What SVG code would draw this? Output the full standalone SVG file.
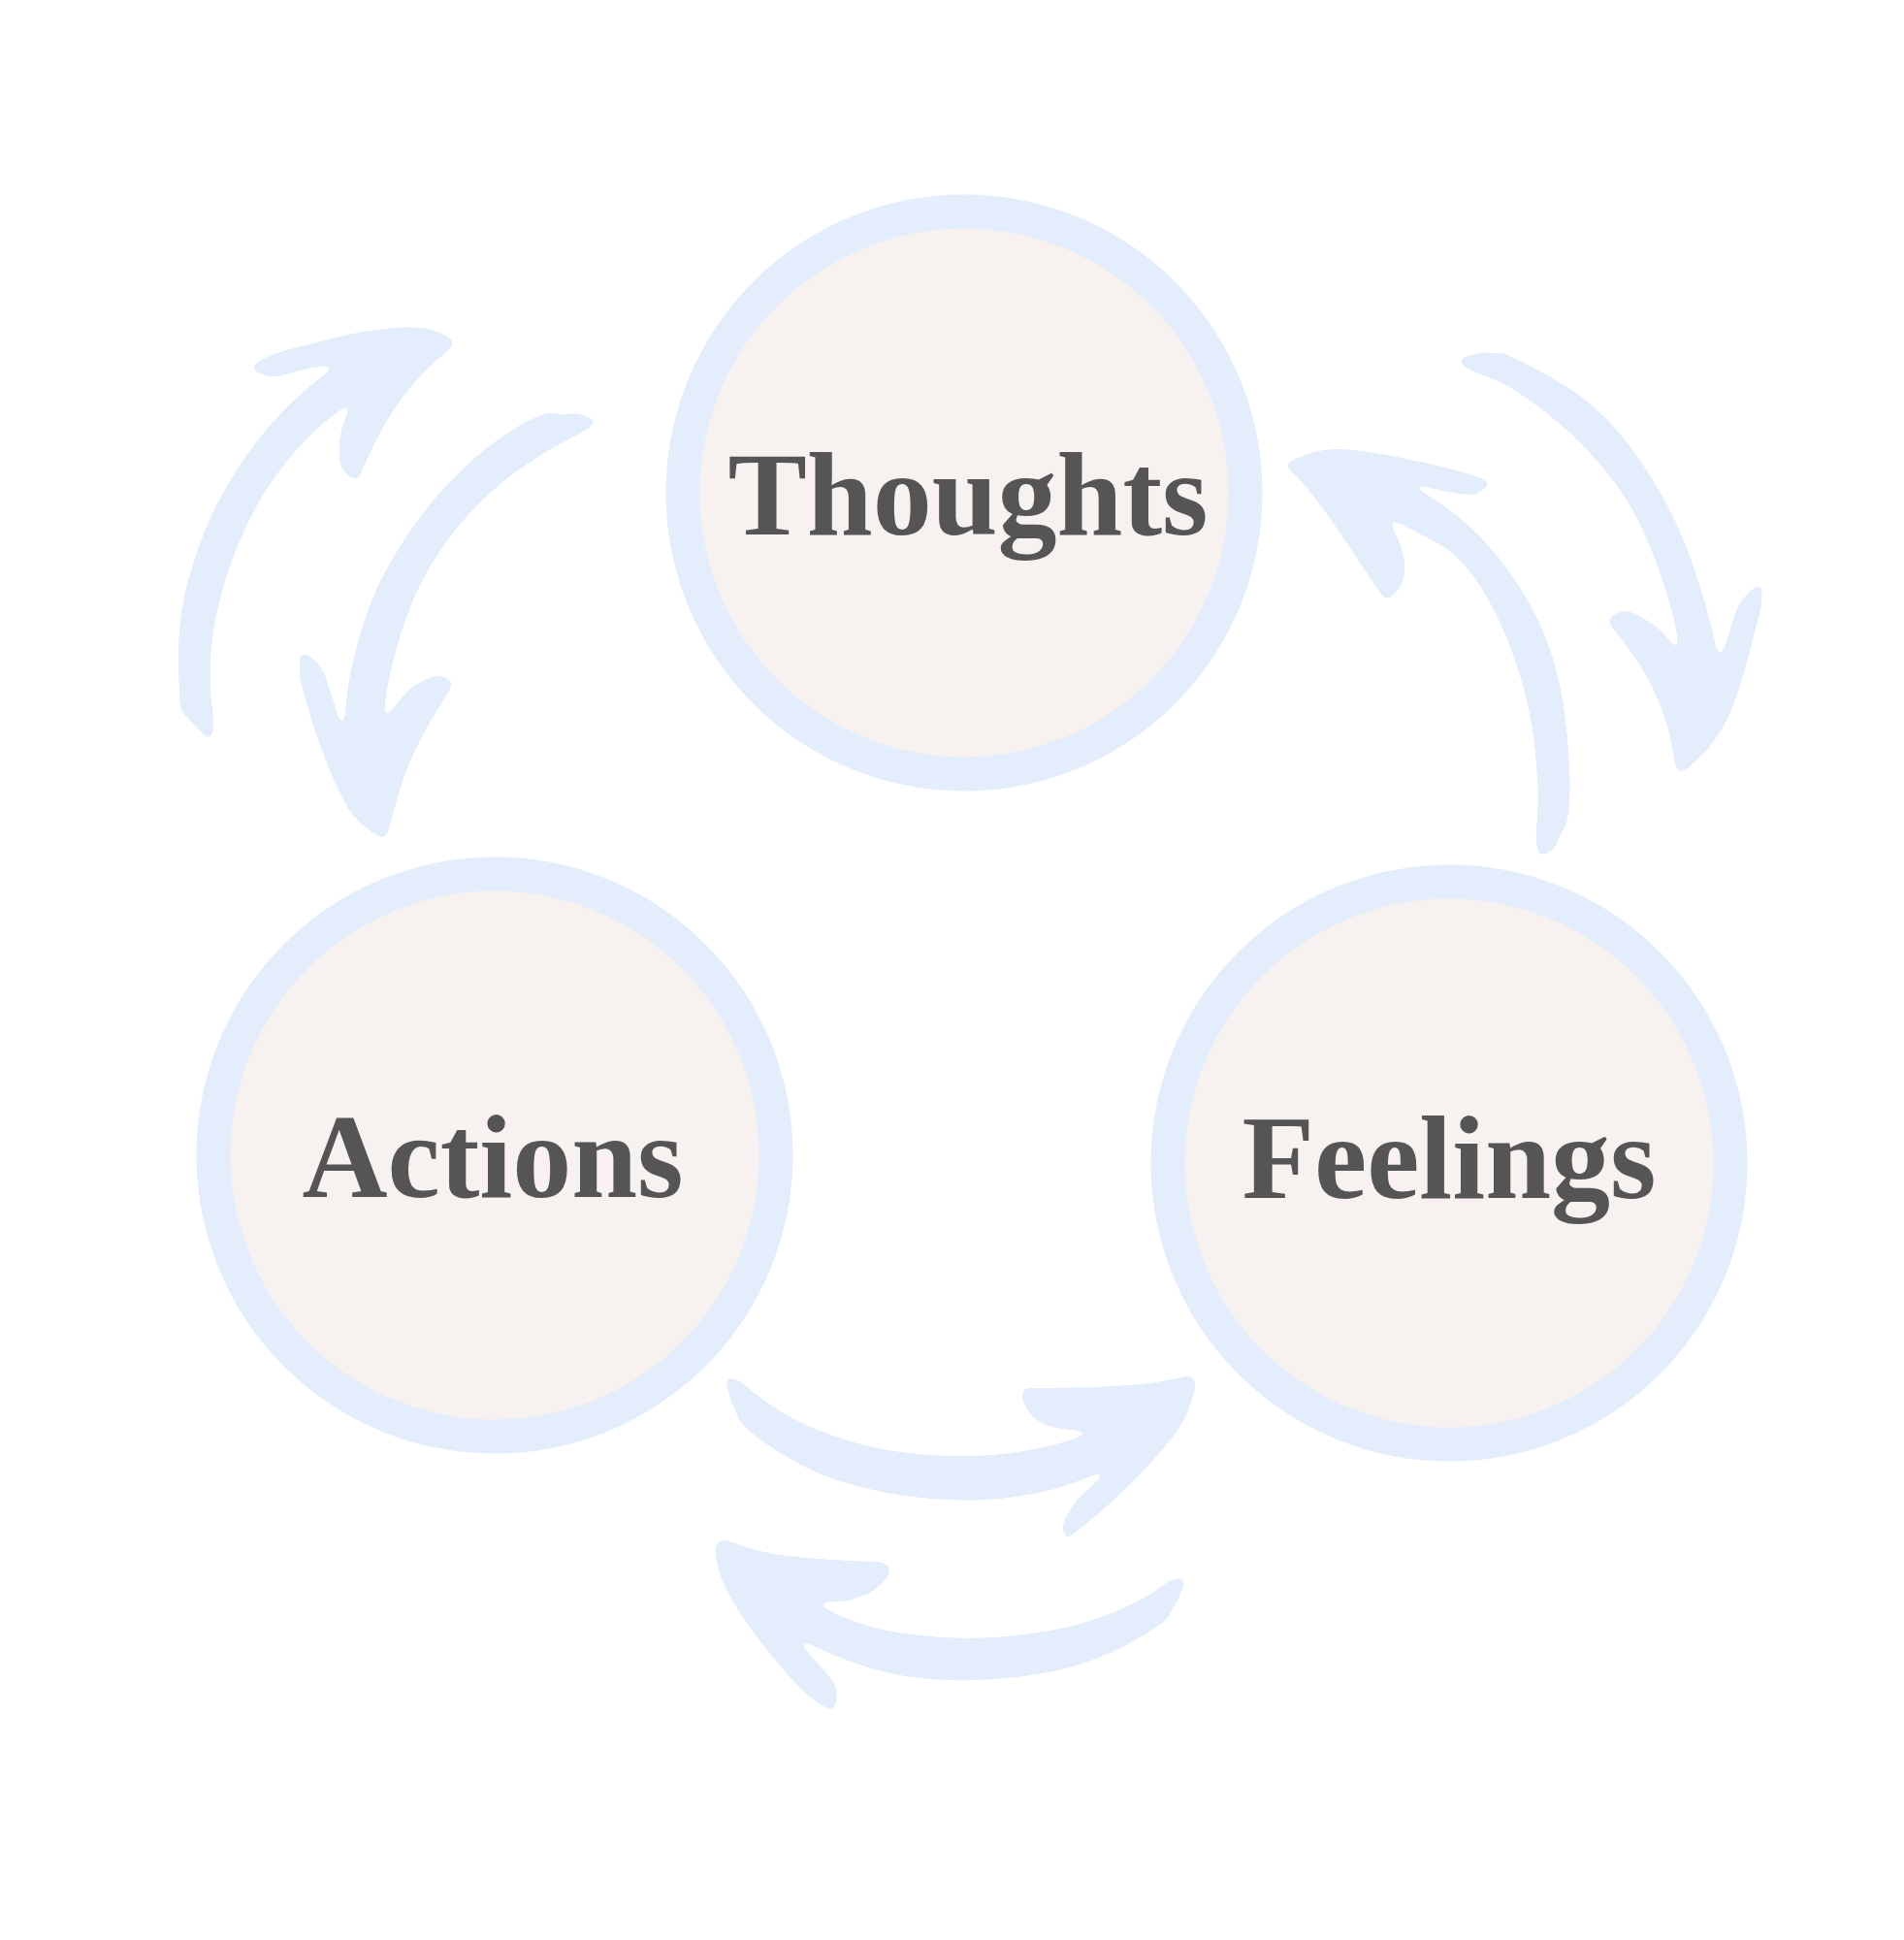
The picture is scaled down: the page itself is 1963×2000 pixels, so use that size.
<svg xmlns="http://www.w3.org/2000/svg" width="1963" height="2000" viewBox="0 0 1963 2000">
<style>
.ring{fill:#f7f2f0;stroke:#e3edfb;stroke-width:35}
.lbl{font-family:"Liberation Serif","Times New Roman",serif;font-weight:bold;font-size:122px;fill:#555555;text-anchor:middle}
.arr{fill:#e3edfb;stroke:#e3edfb;stroke-width:2;stroke-linejoin:round}
</style>
<defs>
<filter id="smooth" filterUnits="userSpaceOnUse" x="0" y="0" width="1963" height="2000" color-interpolation-filters="sRGB">
<feGaussianBlur in="SourceGraphic" stdDeviation="4" result="b"/>
<feColorMatrix in="b" type="matrix" values="0 0 0 0 0.890 0 0 0 0 0.929 0 0 0 0 0.984 0 0 0 24 -11"/>
</filter>
</defs>
<rect width="1963" height="2000" fill="#ffffff"/>
<g id="connectors" filter="url(#smooth)">
<path class="arr" transform="translate(170,0) scale(0.93333,1) translate(-170,0)" d="M220,763 L188,731 L186.5,695 Q185,659 190,629 Q195,599 209.5,561.5 Q224,524 247,490 Q270,456 295,431 Q320,406 342.5,390.5 L365,375 L349.5,376 Q334,377 320,380.5 Q306,384 297,386.5 Q288,389 276,384 L265,379 L276.5,372.5 Q288,366 309.5,361 Q331,356 357.5,349.5 Q384,343 414.5,340 Q445,337 459.5,340 Q474,343 482,348.5 L490,354 L473,367.5 Q456,381 441.5,397 Q427,413 414.5,432.5 Q402,452 392,473.5 L382,495 L375,490.5 Q368,486 365.5,480 Q363,474 364,457.5 Q365,441 373.5,425 L382,409 L365.5,420 Q349,431 334.5,443.5 Q320,456 298.5,481 Q277,506 259,541.5 Q241,577 230.5,614.5 Q220,652 219,682.5 Q218,713 221,729 Q224,745 222,754 Z"/>
<path class="arr" transform="translate(170,0) scale(0.93333,1) translate(-170,0)" d="M647,434 L624,427 L609,429 L595,426 L579,432 Q563,438 536,456 Q509,474 482.5,500.5 Q456,527 429,566.5 Q402,606 388,650.5 Q374,695 371.5,724.5 L369,754 L363,749 L357.5,731 Q352,713 346.5,698.5 Q341,684 330.5,678 L320,672 L320,699 L329,729 Q338,759 354,795 Q370,831 380.5,841.5 Q391,852 402,858.5 L413,865 L416.5,853 Q420,841 427,818 Q434,795 445,773.5 Q456,752 472,728 L488,704 L474,697 L463,700 L452,704.5 Q441,709 425,729 L409,749 L412,724 Q415,699 428,657.5 Q441,616 462.5,582.5 Q484,549 511,523 Q538,497 568.5,478 Q599,459 615,452 Q631,445 639,439.5 Z"/>
<path class="arr" transform="translate(1300,0) scale(0.96419,1) translate(-1300,0)" d="M1326,479 L1348.5,470 Q1371,461 1407,466 Q1443,471 1478.5,479 Q1514,487 1530,492.5 L1546,498 L1529,509 L1514.5,508 Q1500,507 1485.5,502.5 Q1471,498 1458.5,496.5 L1446,495 L1471,508 Q1496,521 1523,544.5 Q1550,568 1573,602 Q1596,636 1608.5,671.5 Q1621,707 1625.5,751.5 Q1630,796 1629,821 Q1628,846 1624,851.5 Q1620,857 1617,866 Q1614,875 1606,878.5 L1598,882 L1595,864 L1597,839 Q1599,814 1594,769.5 Q1589,725 1573,680.5 Q1557,636 1535.5,603.5 Q1514,571 1489,558.5 Q1464,546 1448,538 L1432,530 L1441,547 Q1450,564 1452,576.5 Q1454,589 1451,598 Q1448,607 1441,612.5 L1434,618 L1426,607 Q1418,596 1400,569.5 Q1382,543 1364,519.5 Q1346,496 1336,487.5 Z"/>
<path class="arr" transform="translate(1300,0) scale(0.96419,1) translate(-1300,0)" d="M1511,371 L1539,364 L1550,366 L1557,364 L1580.5,375 Q1604,386 1627,400 Q1650,414 1671.5,435.5 Q1693,457 1719.5,498 Q1746,539 1762.5,587.5 Q1779,636 1784,661 L1789,686 L1794.5,673.5 Q1800,661 1805.5,641 Q1811,621 1823,611 L1835,601 L1834,625 L1820.5,675 Q1807,725 1794.5,746.5 Q1782,768 1766,782 L1750,796 L1745,793 L1740.5,768 Q1736,743 1723.5,716 Q1711,689 1691,664 L1671,639 L1688,630 L1698,633 L1713.5,641.5 Q1729,650 1739.5,666 L1750,682 L1747.5,662.5 Q1745,643 1735,611 Q1725,579 1709,545 Q1693,511 1666,480.5 Q1639,450 1609,427 Q1579,404 1562.5,396 Q1546,388 1533.5,384 Q1521,380 1516,375.5 Z"/>
<path class="arr" d="M748,1420 L763,1425 L771.5,1432.5 Q780,1440 800,1453.5 Q820,1467 853.5,1479.5 Q887,1492 920,1497 Q953,1502 986.5,1502.5 Q1020,1503 1053.5,1497.5 Q1087,1492 1108.5,1484.5 L1130,1477 L1127,1474 L1107,1473 Q1087,1472 1075,1466 Q1063,1460 1061.5,1455 Q1060,1450 1057.5,1448.5 Q1055,1447 1055,1439.5 L1055,1432 L1087.5,1432 Q1120,1432 1153.5,1430 Q1187,1428 1207.5,1423.5 L1228,1419 L1232,1427 L1227,1445 Q1222,1463 1207.5,1481.5 Q1193,1500 1170,1523.5 Q1147,1547 1122.5,1567 L1098,1587 L1097,1570 L1103.5,1558.5 Q1110,1547 1118.5,1540 Q1127,1533 1139.5,1520.5 L1152,1508 L1127.5,1519 Q1103,1530 1078,1536 Q1053,1542 1023,1544.5 Q993,1547 956.5,1543.5 Q920,1540 886.5,1531.5 Q853,1523 828,1510 Q803,1497 783,1482 Q763,1467 761.5,1460 Q760,1453 756,1447.5 Z"/>
<path class="arr" d="M1222,1627 L1207,1630 L1197,1637.5 Q1187,1645 1165,1656 Q1143,1667 1115,1675 Q1087,1683 1045,1687.5 Q1003,1692 961.5,1688.5 Q920,1685 895,1677.5 Q870,1670 853.5,1661 L837,1652 L840,1650 L870,1650 L883.5,1646 Q897,1642 902,1637 Q907,1632 910,1630.5 Q913,1629 915,1623 L917,1617 L913,1612 L883,1610.5 Q853,1609 828,1607 Q803,1605 786.5,1601 Q770,1597 756.5,1592 L743,1587 L738,1597 L740.5,1612 Q743,1627 756.5,1650 Q770,1673 791.5,1700 Q813,1727 826.5,1740 Q840,1753 850,1758 L860,1763 L862,1740 L854.5,1730 Q847,1720 838.5,1711.5 Q830,1703 821.5,1692.5 L813,1682 L833,1692.5 Q853,1703 886.5,1715 Q920,1727 961.5,1730 Q1003,1733 1045,1728 Q1087,1723 1115,1714 Q1143,1705 1165,1692.5 Q1187,1680 1196,1673.5 Q1205,1667 1206,1662 Q1207,1657 1212,1652.5 Z"/>
</g>
<g id="node-thoughts">
<circle class="ring" cx="994" cy="508" r="290"/>
<text class="lbl" x="998" y="551">Thoughts</text>
</g>
<g id="node-actions">
<circle class="ring" cx="510" cy="1191" r="290"/>
<text class="lbl" x="508" y="1234">Actions</text>
</g>
<g id="node-feelings">
<circle class="ring" cx="1494" cy="1199" r="290"/>
<text class="lbl" x="1494" y="1235">Feelings</text>
</g>
</svg>
